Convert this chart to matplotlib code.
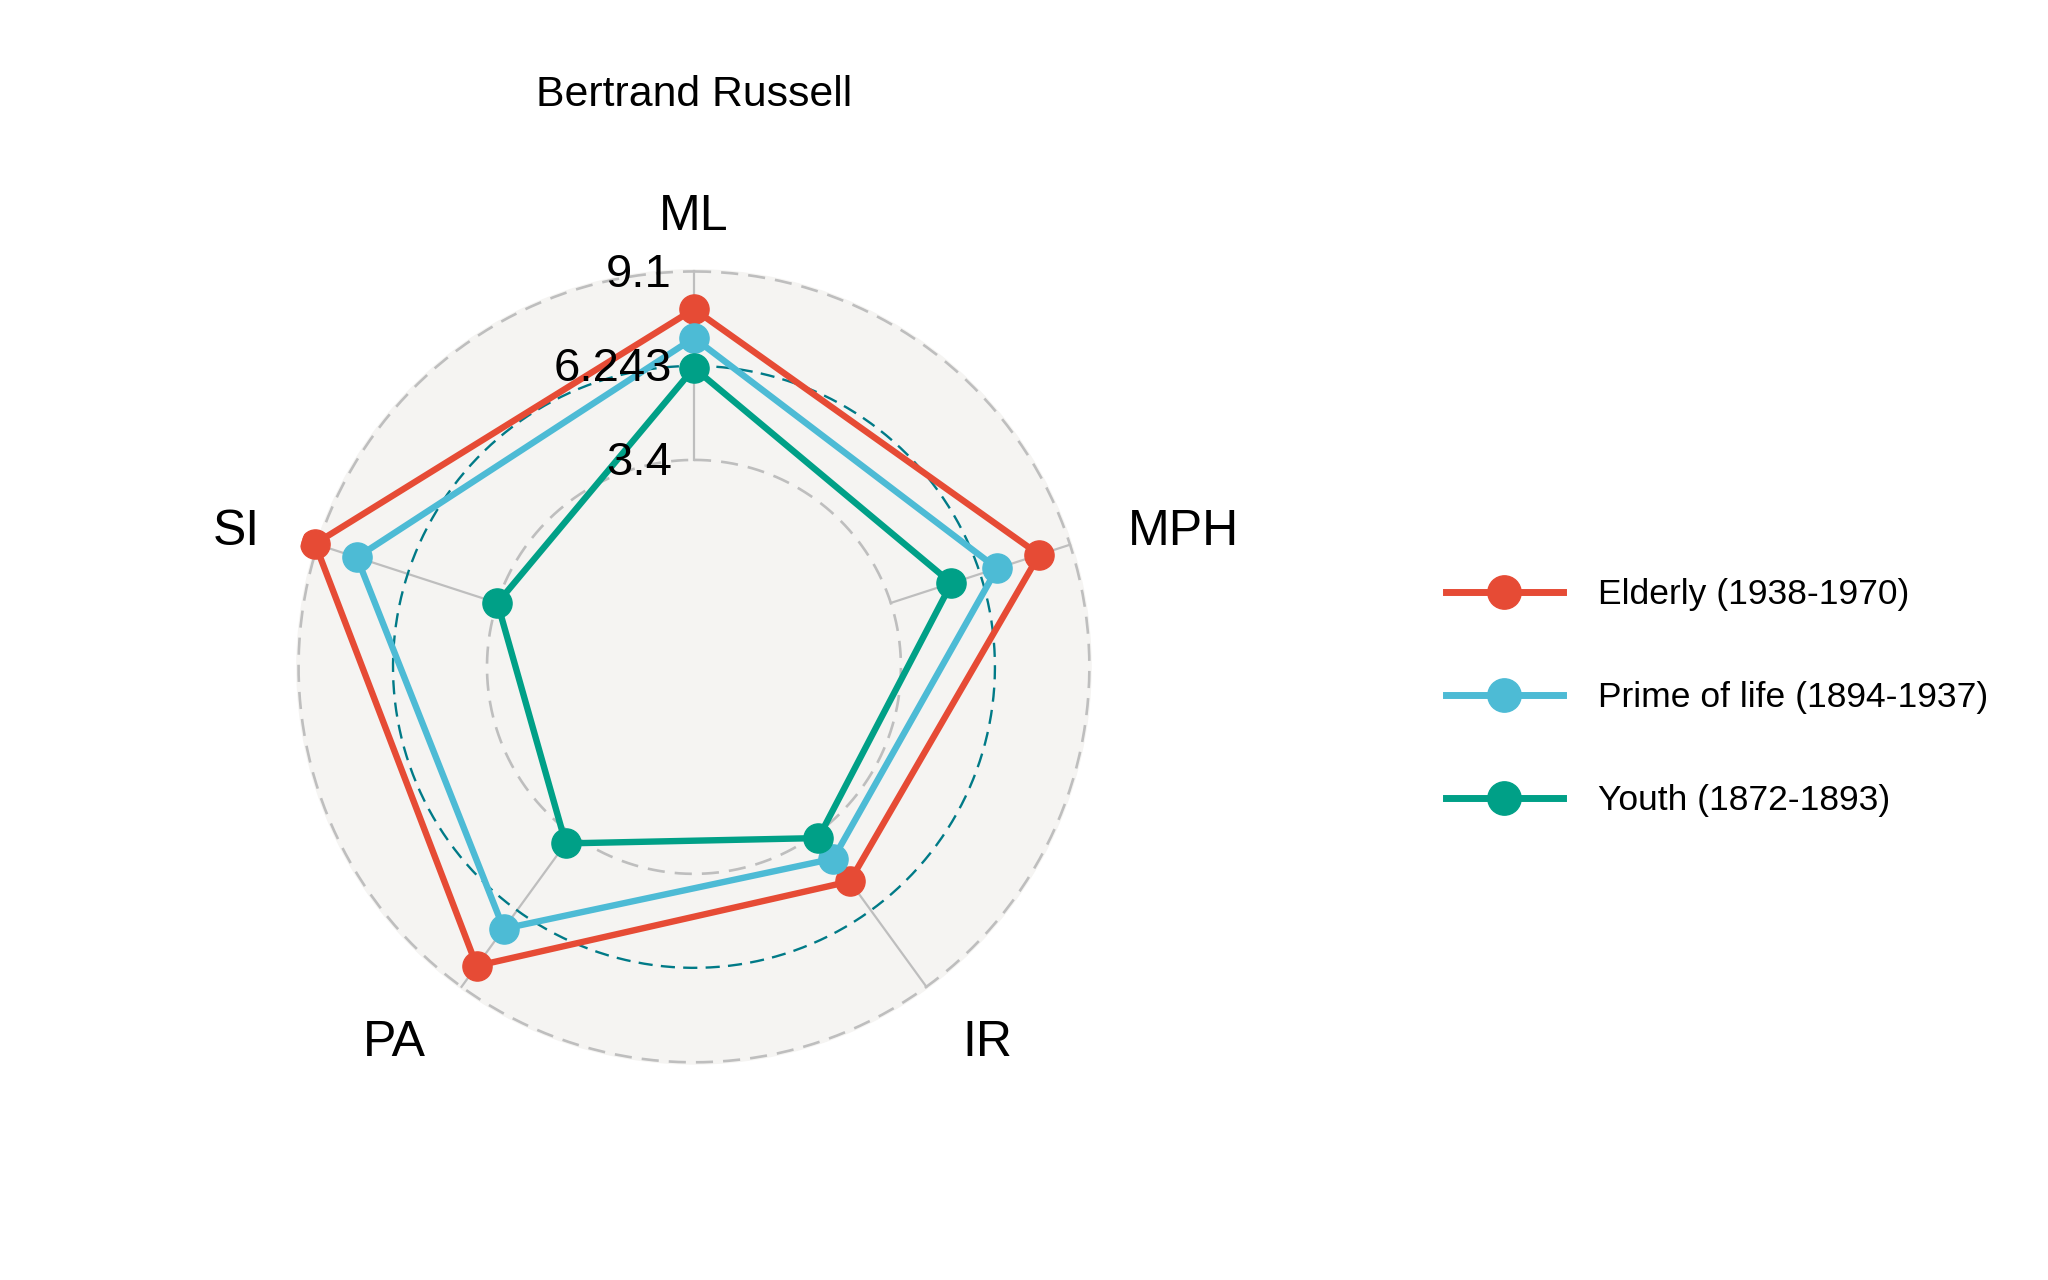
import numpy as np
import matplotlib
matplotlib.use("Agg")
from matplotlib import pyplot as plt

plt.rcParams['font.family'] = ['Liberation Sans', 'DejaVu Sans']

# data
axes_names = ["ML", "MPH", "IR", "PA", "SI"]
groups = ["Elderly (1938-1970)", "Prime of life (1894-1937)", "Youth (1872-1893)"]
elderly = [7.96, 8.12, 5.16, 8.32, 9.19]
prime = [7.09, 6.78, 4.31, 6.93, 7.86]
youth = [6.18, 5.33, 3.54, 3.74, 3.39]
grid_min, grid_mid, grid_max = 3.4, 6.243, 9.1
grid_labels = ["3.4", "6.243", "9.1"]
title = "Bertrand Russell"

colors = ["#E64B35", "#4DBBD5", "#00A087"]
series = [elderly, prime, youth]

fig = plt.figure(figsize=(20.48, 12.8), dpi=100)
ax = fig.add_axes([0.1377, 0.157, 0.4023, 0.644], projection="polar")
ax.set_theta_offset(np.pi / 2)
ax.set_theta_direction(-1)
r0 = -2.86
ax.set_ylim(r0, 9.6)
ax.grid(False)
ax.set_xticks([])
ax.set_yticks([])
ax.spines['polar'].set_visible(False)
ax.patch.set_alpha(0)

n = len(axes_names)
theta = np.arange(n) * 2 * np.pi / n
circ = np.linspace(0, 2 * np.pi, 400)

# background
ax.fill(circ, np.full(circ.size, grid_max + 0.05), color="#F5F4F2", zorder=0)

# axis lines
for t in theta:
    ax.plot([t, t], [grid_min, grid_max], color="#BEBEBE", lw=1.6, zorder=1)

# grid circles
ax.plot(circ, np.full(circ.size, grid_min), color="#BEBEBE", lw=1.9,
        linestyle=(0, (6.5, 3.8)), zorder=1)
ax.plot(circ, np.full(circ.size, grid_max), color="#BEBEBE", lw=1.9,
        linestyle=(0, (6.5, 3.8)), zorder=1)
ax.plot(circ, np.full(circ.size, grid_mid), color="#007A87", lw=1.7,
        linestyle=(0, (6, 3.5)), zorder=1)

# polygons
for vals, c in zip(series, colors):
    ax.plot(np.append(theta, theta[0]), np.append(vals, vals[0]), color=c,
            lw=4.6, zorder=3, solid_joinstyle="miter")
handles = []
for vals, c, g in zip(series, colors, groups):
    ax.plot(theta, vals, linestyle="none", marker="o", ms=21, color=c, zorder=4)
    h, = ax.plot([], [], color=c, lw=5, marker="o", ms=24, label=g)
    handles.append(h)

# grid value labels
for r, lab in zip([grid_min, grid_mid, grid_max], grid_labels):
    ax.annotate(lab, xy=(0, r), xytext=(-16, -2.5), textcoords="offset points",
                ha="right", va="center", fontsize=34, zorder=5)

# axis labels
for t, name in zip(theta, axes_names):
    x = np.sin(t)
    ha = "center" if abs(x) < 1e-6 else ("left" if x > 0 else "right")
    ax.annotate(name, xy=(t, 10.95), xytext=(0, -4.5), textcoords="offset points",
                ha=ha, va="center", fontsize=36, annotation_clip=False)

fig.text(694 / 2048, 1 - 95 / 1280, title, ha="center", va="center", fontsize=30.8)

fig.legend(handles=handles, loc="center left", bbox_to_anchor=(0.706, 0.455),
           frameon=False, fontsize=25.5, handlelength=3.3, handletextpad=1.0,
           labelspacing=1.98, borderpad=0, borderaxespad=0)

fig.savefig("out.png", dpi=100)
